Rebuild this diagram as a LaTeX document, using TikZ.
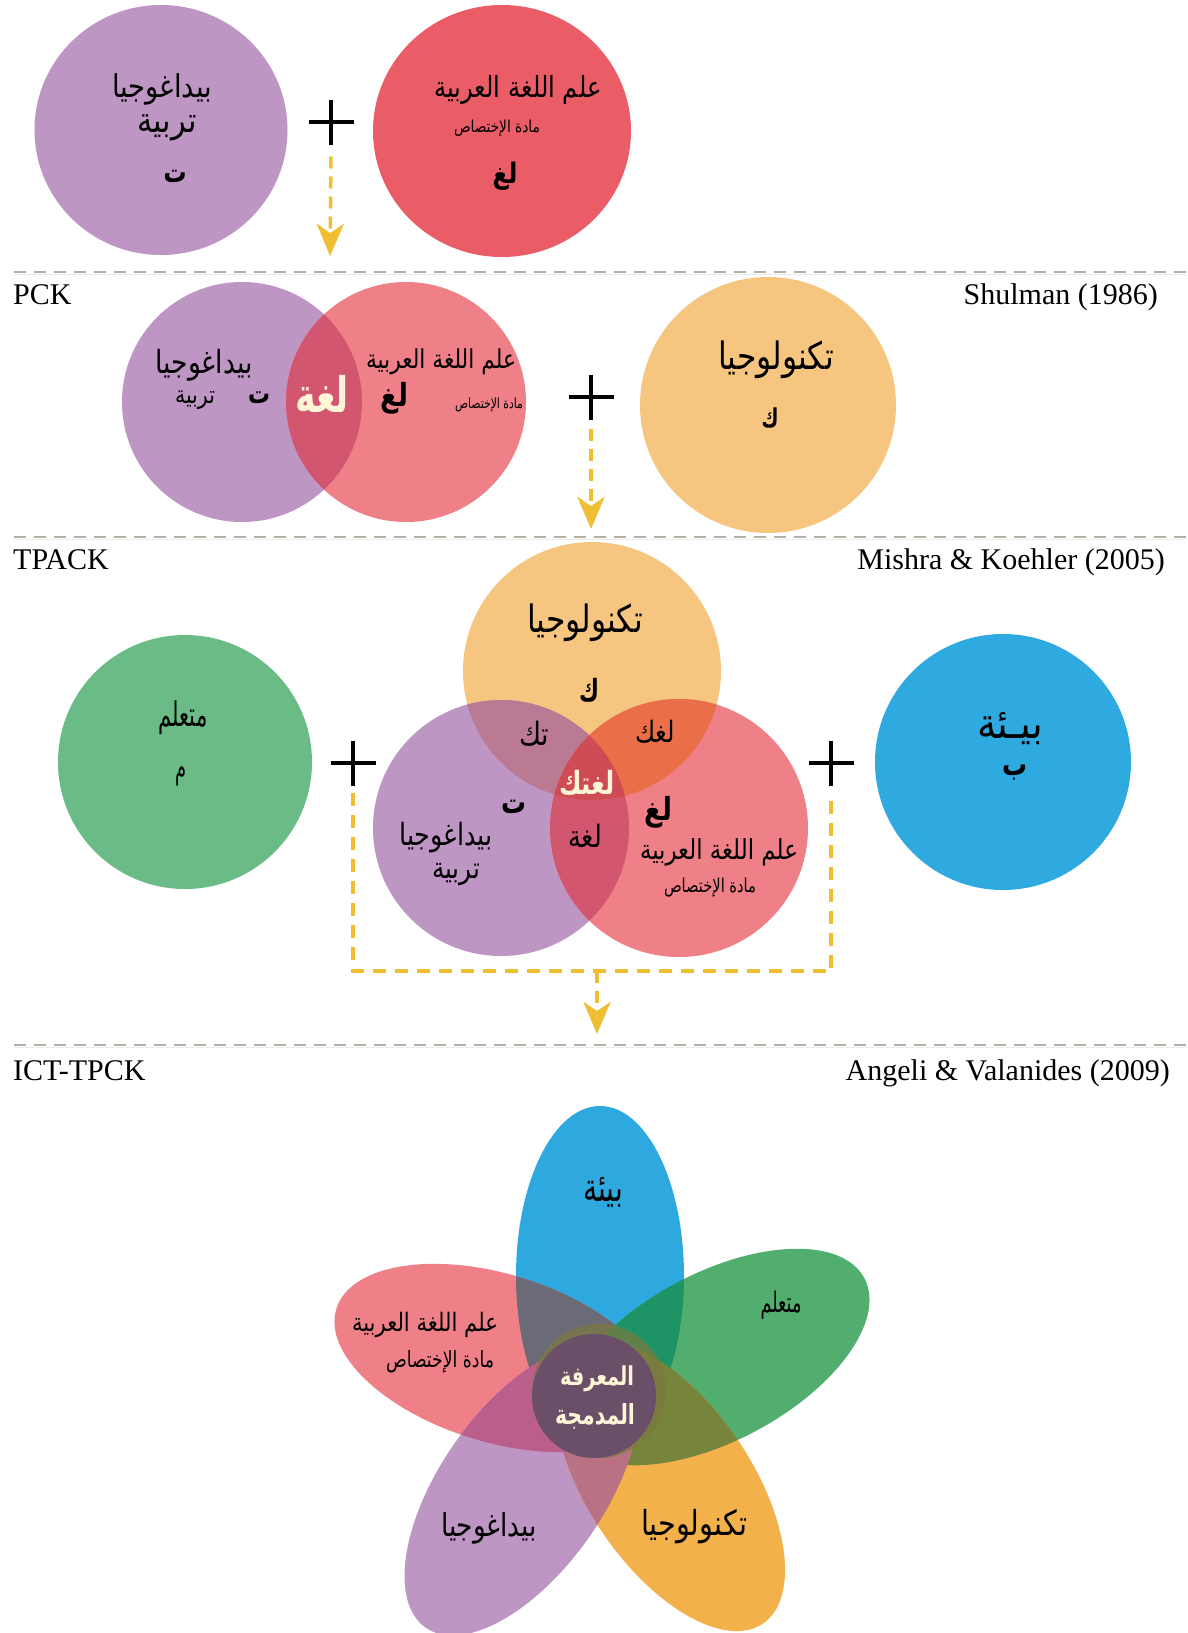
\documentclass[tikz,border=0pt]{standalone}
\usepackage{fontspec}
\usepackage{graphicx}
\setmainfont{Liberation Serif}
\newfontfamily\arabicfont[Script=Arabic]{DejaVu Sans}
\TeXXeTstate=1
\usetikzlibrary{arrows.meta,shapes.geometric}
\definecolor{cP}{HTML}{BE96C4}
\definecolor{cRone}{HTML}{EA5C66}
\definecolor{cR}{HTML}{EF8087}
\definecolor{cO}{HTML}{F6C680}
\definecolor{cG}{HTML}{6BBB87}
\definecolor{cB}{HTML}{2FAAE1}
\definecolor{cPR}{HTML}{D2566F}
\definecolor{cOP}{HTML}{BB7A94}
\definecolor{cOR}{HTML}{EA6E48}
\definecolor{cOPR}{HTML}{CF4B55}
\definecolor{fB}{HTML}{2EA9E0}
\definecolor{fG}{HTML}{52AE6E}
\definecolor{fO}{HTML}{F3B14C}
\definecolor{fP}{HTML}{BE96C4}
\definecolor{fR}{HTML}{EF8087}
\definecolor{fBR}{HTML}{6A6B77}
\definecolor{fBG}{HTML}{1E9466}
\definecolor{fGO}{HTML}{76843C}
\definecolor{fOP}{HTML}{B97283}
\definecolor{fPR}{HTML}{BA5E8B}
\definecolor{fRO}{HTML}{C8466B}
\definecolor{fBO}{HTML}{5E6E52}
\definecolor{fBP}{HTML}{6E5F86}
\definecolor{fGP}{HTML}{7A6A5A}
\definecolor{fGR}{HTML}{5F6E5A}
\definecolor{fC}{HTML}{6B4F68}
\definecolor{fOl}{HTML}{7C7A3E}
\definecolor{cream}{HTML}{FFF6D8}
\definecolor{yel}{HTML}{F0BE32}
\definecolor{divc}{HTML}{B3B1A4}
% #1 vertical stretch, #2 width in pt, #3 text (with \beginR..\endR)
\newcommand\artxt[3][1]{\scalebox{1}[#1]{\resizebox{#2pt}{!}{\fontsize{20}{24}\arabicfont #3}}}
\newcommand\artxb[3][1]{\scalebox{1}[#1]{\resizebox{#2pt}{!}{\fontsize{20}{24}\arabicfont\bfseries #3}}}
\def\PB{(600,1276) ellipse [x radius=84pt, y radius=170pt]}
\def\PG{(716,1357) ellipse [x radius=168pt, y radius=84pt]}
\def\PR{(497,1358) ellipse [x radius=168pt, y radius=84pt]}
\def\PP{(522,1490) ellipse [x radius=168pt, y radius=82pt]}
\def\PO{(670,1486) ellipse [x radius=166pt, y radius=82pt]}
\begin{document}
\begin{tikzpicture}[x=1pt,y=-1pt,
  disc/.style={ellipse, draw=none, inner sep=0pt, outer sep=0pt},
  txt/.style={inner sep=0pt, outer sep=0pt},
  lab/.style={inner sep=0pt, font=\fontsize{30}{36}\selectfont},
  plusbox/.style={minimum size=45pt, inner sep=0pt, outer sep=0pt},
  plusline/.style={line width=4.5pt, draw=black},
  yarrow/.style={draw=yel, line width=3.5pt, dash pattern=on 12pt off 8pt, -{Stealth[length=32pt, width=27pt, inset=9pt, fill=yel]}},
  ybracket/.style={draw=yel, line width=4pt, dash pattern=on 13pt off 9pt},
  divline/.style={draw=divc, line width=2.5pt, dash pattern=on 12pt off 8pt},
  divshade/.style={draw=black!8, line width=1pt},
  rB/.style={},
  rG/.style={rotate around={28:(716,1357)}},
  rR/.style={rotate around={-17:(497,1358)}},
  rP/.style={rotate around={55:(522,1490)}},
  rO/.style={rotate around={-56:(670,1486)}},
]
\useasboundingbox (0,0) rectangle (1187,1633);
\fill[white] (0,0) rectangle (1187,1633);

% ---------- section 1 ----------
\node[disc, fill=cP, minimum width=253pt, minimum height=250pt] (ped1) at (161,130) {};
\node[disc, fill=cRone, minimum width=258pt, minimum height=252pt] (lng1) at (502,131) {};
\node[txt] (ped1a) at (162,89) {\artxt[1.15]{100}{\beginR بيداغوجيا\endR}};
\node[txt] (ped1b) at (167,128) {\artxt[1.15]{59}{\beginR تربية\endR}};
\node[txt] (ped1c) at (175,176) {\artxb[1.3]{23}{\beginR ت\endR}};
\node[txt] (lng1a) at (518,90) {\artxt[1.2]{167}{\beginR علم اللغة العربية\endR}};
\node[txt] (lng1b) at (497,128) {\artxt[1.2]{86}{\beginR مادة الإختصاص\endR}};
\node[txt] (lng1c) at (505,176) {\artxb[1.2]{25}{\beginR لغ\endR}};
\node[plusbox] (plus1) at (331,122) {};
\draw[plusline] (plus1.north) -- (plus1.south) (plus1.west) -- (plus1.east);
\coordinate (tip1) at (330,256);
\draw[yarrow] ([yshift=-12pt]plus1.south) -- (tip1);

% divider 1
\draw[divshade] (14,274) -- (1187,274);
\draw[divline] (14,272) -- (1187,272);

% ---------- section 2 ----------
\node[lab, anchor=base west] (pck) at (13,304) {PCK};
\node[lab, anchor=base east] (shul) at (1158,304) {Shulman (1986)};
\node[disc, fill=cP, minimum size=240pt] (ped2) at (242,402) {};
\node[disc, fill=cR, minimum size=240pt] (lng2) at (406,402) {};
\begin{scope}
  \clip (242,402) circle [radius=120pt];
  \fill[cPR] (406,402) circle [radius=120pt];
\end{scope}
\node[disc, fill=cO, minimum size=256pt] (tec2) at (768,405) {};
\node[txt] (ped2a) at (204,365) {\artxt[1.2]{97}{\beginR بيداغوجيا\endR}};
\node[txt] (ped2b) at (195,400) {\artxt[1.2]{40}{\beginR تربية\endR}};
\node[txt] (ped2c) at (259,398) {\artxb[1.3]{22}{\beginR ت\endR}};
\node[txt, text=cream] (pck2) at (322,394) {\artxb[1.4]{54}{\beginR لغة\endR}};
\node[txt] (lng2a) at (441,362) {\artxt[1.2]{150}{\beginR علم اللغة العربية\endR}};
\node[txt] (lng2c) at (394,398) {\artxb[1.2]{28}{\beginR لغ\endR}};
\node[txt] (lng2b) at (489,405) {\artxt[1.3]{68}{\beginR مادة الإختصاص\endR}};
\node[txt] (tec2a) at (776,360) {\artxt[1.2]{116}{\beginR تكنولوجيا\endR}};
\node[txt] (tec2c) at (770,418) {\artxb[1.4]{17}{\beginR ك\endR}};
\node[plusbox] (plus2) at (591,397) {};
\draw[plusline] (plus2.north) -- (plus2.south) (plus2.west) -- (plus2.east);
\coordinate (tip2) at (591,529);
\draw[yarrow] ([yshift=-9pt]plus2.south) -- (tip2);

% divider 2
\draw[divshade] (14,539) -- (1187,539);
\draw[divline] (14,537) -- (1187,537);

% ---------- section 3 ----------
\node[lab, anchor=base west] (tpack) at (13,569) {TPACK};
\node[lab, anchor=base east] (mish) at (1165,569) {Mishra \& Koehler (2005)};
\node[disc, fill=cG, minimum size=254pt] (lrn3) at (185,762) {};
\node[disc, fill=cB, minimum size=256pt] (env3) at (1003,762) {};
\node[disc, fill=cO, minimum size=258pt] (tec3) at (592,671) {};
\node[disc, fill=cP, minimum size=256pt] (ped3) at (501,828) {};
\node[disc, fill=cR, minimum size=258pt] (lng3) at (679,828) {};
\begin{scope}
  \clip (501,828) circle [radius=128pt];
  \fill[cOP] (592,671) circle [radius=129pt];
  \fill[cPR] (679,828) circle [radius=129pt];
\end{scope}
\begin{scope}
  \clip (592,671) circle [radius=129pt];
  \fill[cOR] (679,828) circle [radius=129pt];
  \clip (501,828) circle [radius=128pt];
  \fill[cOPR] (679,828) circle [radius=129pt];
\end{scope}
\node[txt] (tec3a) at (585,623) {\artxt[1.2]{116}{\beginR تكنولوجيا\endR}};
\node[txt] (tec3c) at (589,690) {\artxb[1.4]{20}{\beginR ك\endR}};
\node[txt] (tpk3) at (534,734) {\artxt[1.2]{30}{\beginR تك\endR}};
\node[txt] (tck3) at (655,732) {\artxt[1.2]{40}{\beginR لغك\endR}};
\node[txt, text=cream] (tpack3) at (587,783) {\artxb[1.3]{56}{\beginR لغتك\endR}};
\node[txt] (ped3c) at (514,807) {\artxb[1.3]{25}{\beginR ت\endR}};
\node[txt] (lng3c) at (658,812) {\artxb[1.2]{28}{\beginR لغ\endR}};
\node[txt] (ped3a) at (446,838) {\artxt[1.2]{93}{\beginR بيداغوجيا\endR}};
\node[txt] (ped3b) at (456,875) {\artxt[1.2]{48}{\beginR تربية\endR}};
\node[txt] (pck3) at (585,836) {\artxt[1.2]{34}{\beginR لغة\endR}};
\node[txt] (lng3a) at (719,852) {\artxt[1.2]{158}{\beginR علم اللغة العربية\endR}};
\node[txt] (lng3b) at (710,888) {\artxt[1.3]{92}{\beginR مادة الإختصاص\endR}};
\node[txt] (lrn3a) at (183,718) {\artxt[1.6]{49}{\beginR متعلم\endR}};
\node[txt] (lrn3c) at (181,776) {\artxt[1.8]{11}{\beginR م\endR}};
\node[txt] (env3a) at (1010,729) {\artxt[1.1]{66}{\beginR بيـئة\endR}};
\node[txt] (env3c) at (1015,773) {\artxb[1.3]{25}{\beginR ب\endR}};
\node[plusbox] (plus3) at (353,763) {};
\draw[plusline] (plus3.north) -- (plus3.south) (plus3.west) -- (plus3.east);
\node[plusbox] (plus4) at (831,763) {};
\draw[plusline] (plus4.north) -- (plus4.south) (plus4.west) -- (plus4.east);
\coordinate (bmid) at (597,971);
\draw[ybracket] ([yshift=-7pt]plus3.south) |- (bmid) -| ([yshift=-7pt]plus4.south);
\coordinate (tip3) at (597,1034);
\draw[yarrow] (bmid) -- (tip3);

% divider 3
\draw[divshade] (14,1047) -- (1187,1047);
\draw[divline] (14,1045) -- (1187,1045);

% ---------- section 4 ----------
\node[lab, anchor=base west] (ict) at (13,1080) {ICT-TPCK};
\node[lab, anchor=base east] (ange) at (1170,1080) {Angeli \& Valanides (2009)};
\fill[fB, rB] \PB;
\fill[fG, rG] \PG;
\fill[fR, rR] \PR;
\fill[fP, rP] \PP;
\fill[fO, rO] \PO;
% non-adjacent overlaps
\begin{scope}\clip[rB] \PB; \fill[fBO, rO] \PO; \end{scope}
\begin{scope}\clip[rB] \PB; \fill[fBP, rP] \PP; \end{scope}
\begin{scope}\clip[rG] \PG; \fill[fGP, rP] \PP; \end{scope}
\begin{scope}\clip[rG] \PG; \fill[fGR, rR] \PR; \end{scope}
\begin{scope}\clip[rR] \PR; \fill[fRO, rO] \PO; \end{scope}
% adjacent overlaps
\begin{scope}\clip[rB] \PB; \fill[fBR, rR] \PR; \end{scope}
\begin{scope}\clip[rB] \PB; \fill[fBG, rG] \PG; \end{scope}
\begin{scope}\clip[rG] \PG; \fill[fGO, rO] \PO; \end{scope}
\begin{scope}\clip[rO] \PO; \fill[fOP, rP] \PP; \end{scope}
\begin{scope}\clip[rP] \PP; \fill[fPR, rR] \PR; \end{scope}
\fill[fOl, opacity=0.7] (599,1391) circle [radius=67pt];
\node[circle, fill=fC, minimum size=124pt, inner sep=0pt] (core) at (594,1396) {};
\node[txt] (env4) at (603,1192) {\artxt[1.4]{40}{\beginR بيئة\endR}};
\node[txt] (lrn4) at (781,1305) {\artxt[1.6]{41}{\beginR متعلم\endR}};
\node[txt] (lng4a) at (425,1325) {\artxt[1.2]{146}{\beginR علم اللغة العربية\endR}};
\node[txt] (lng4b) at (440,1362) {\artxt[1.3]{108}{\beginR مادة الإختصاص\endR}};
\node[txt] (ped4) at (489,1528) {\artxt[1.2]{96}{\beginR بيداغوجيا\endR}};
\node[txt] (tec4) at (694,1527) {\artxt[1.2]{106}{\beginR تكنولوجيا\endR}};
\node[txt, text=cream] (core1) at (597,1379) {\artxb[1.35]{74}{\beginR المعرفة\endR}};
\node[txt, text=cream] (core2) at (595,1416) {\artxb[1.35]{80}{\beginR المدمجة\endR}};
\end{tikzpicture}
\end{document}
